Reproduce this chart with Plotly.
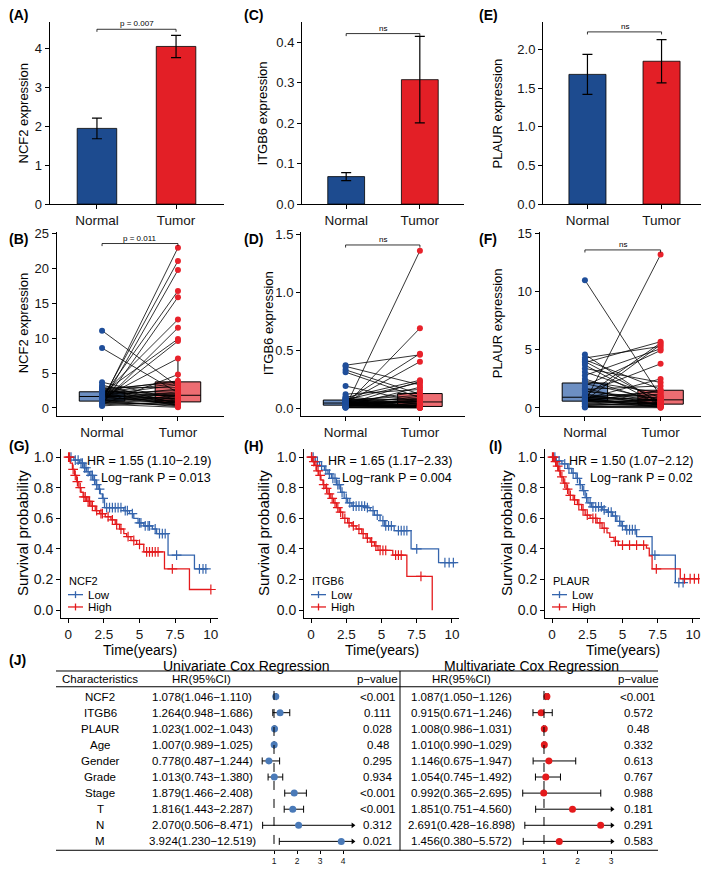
import numpy as np
import plotly.graph_objects as go

# The page body has an 8px default margin, so the figure is drawn 8px smaller
# and every layout pixel position below is given in window pixels minus 8.
OFF = 8
FW, FH = 709 - OFF, 876 - OFF
FONT = "Liberation Sans, Arial, Helvetica, sans-serif"
BLUE_BAR, RED_BAR = "#1d4b8f", "#e31f26"
BLUE_PT, RED_PT = "#1f4e9a", "#e8222b"
BLUE_KM, RED_KM = "#3565ad", "#e41a1c"
BLUE_FOREST, RED_FOREST = "#4a7ab8", "#e41a1c"

# ---------------- data ----------------
groups = ["Normal", "Tumor"]
genes = ["NCF2", "ITGB6", "PLAUR"]

bar_mean_ncf2 = [1.94, 4.04]
bar_err_ncf2 = [0.265, 0.285]
bar_mean_itgb6 = [0.068, 0.308]
bar_err_itgb6 = [0.010, 0.107]
bar_mean_plaur = [1.68, 1.85]
bar_err_plaur = [0.26, 0.28]
bar_pvals = ["p = 0.007", "ns", "ns"]
pair_pvals = ["p = 0.011", "ns", "ns"]

normal_ncf2 = [0.9, 1.2, 0.6, 1.5, 0.4, 1.8, 0.7, 2.1, 1.0, 1.4, 0.5, 2.5, 11.1, 8.6, 3.7, 3.3,
               3.0, 2.9, 2.8, 2.7, 2.6, 2.45, 2.4, 2.3, 2.25, 2.2, 2.05, 2.0, 1.95, 1.9, 1.85, 1.75,
               1.7, 1.6, 1.55, 1.45, 1.35, 1.3, 1.15, 1.1, 1.05, 0.95, 0.88, 0.8, 0.75, 0.65, 0.55, 0.3]
tumor_ncf2 = [23.0, 21.1, 19.8, 16.8, 15.9, 12.7, 11.5, 9.9, 9.6, 7.1, 4.8, 3.9, 3.1, 2.2, 1.2, 0.6,
              2.9, 1.5, 0.4, 3.7, 1.1, 2.0, 0.8, 3.5, 1.75, 0.3, 2.5, 1.0, 0.55, 3.3, 1.3, 2.7,
              0.45, 1.9, 0.95, 2.3, 0.7, 1.6, 2.1, 0.2, 1.4, 1.7, 0.35, 1.15, 0.5, 0.75, 0.1, 0.9]

normal_itgb6 = [0.37, 0.36, 0.33, 0.31, 0.19, 0.12, 0.10, 0.09, 0.085, 0.08, 0.075, 0.072, 0.068, 0.065,
                0.062, 0.06, 0.057, 0.055, 0.052, 0.05, 0.048, 0.046, 0.045, 0.044, 0.042, 0.04, 0.038,
                0.036, 0.034, 0.032, 0.03, 0.029, 0.028, 0.027, 0.026, 0.025, 0.024, 0.022, 0.02, 0.018,
                0.016, 0.014, 0.012, 0.01, 0.008, 0.006, 0.004, 0.002]
tumor_itgb6 = [0.46, 0.20, 0.12, 0.09, 0.05, 0.16, 0.03, 0.24, 0.012, 0.07, 0.035, 0.22, 0.008, 0.11,
               0.04, 0.47, 0.02, 0.085, 0.005, 0.14, 0.025, 0.06, 0.01, 0.40, 0.045, 0.018, 0.10,
               0.003, 0.065, 0.23, 0.014, 0.055, 0.006, 0.08, 0.028, 0.69, 0.011, 0.058, 0.009, 0.18,
               0.016, 0.075, 0.004, 1.36, 0.022, 0.007, 0.002, 0.001]

normal_plaur = [11.0, 4.6, 4.3, 4.15, 4.0, 3.9, 3.7, 3.4, 3.1, 2.8, 2.5, 2.3, 2.1, 1.9, 1.7, 1.6,
                1.5, 1.4, 1.3, 1.2, 1.1, 1.05, 1.0, 0.95, 0.9, 0.85, 0.8, 0.78, 0.75, 0.72, 0.7, 0.68,
                0.65, 0.63, 0.62, 0.6, 0.55, 0.5, 0.45, 0.4, 0.35, 0.3, 0.25, 0.2, 0.15, 0.12, 0.1, 0.05]
tumor_plaur = [1.0, 0.3, 5.3, 1.6, 0.5, 5.7, 0.2, 2.2, 0.9, 5.1, 0.4, 1.3, 0.68, 4.95, 0.15, 1.9,
               0.55, 0.85, 3.8, 0.25, 1.1, 0.6, 5.6, 0.45, 1.4, 0.1, 0.75, 2.5, 0.36, 1.2, 0.05, 0.95,
               0.42, 5.45, 0.28, 1.5, 0.65, 13.2, 0.38, 0.8, 0.18, 0.72, 0.34, 0.48, 0.12, 0.22, 0.08, 0.02]

# Kaplan-Meier step curves (time in years, survival probability)
km_ncf2_low_t = [0, 0.4, 0.8, 1.1, 1.3, 1.5, 1.75, 1.95, 2.1, 2.25, 2.4, 2.55, 3.9, 4.3, 4.6, 4.9, 5.3, 5.9, 6.2, 7.0, 8.85]
km_ncf2_low_s = [1.0, 0.98, 0.96, 0.93, 0.905, 0.88, 0.85, 0.82, 0.79, 0.76, 0.73, 0.67, 0.65, 0.63, 0.60, 0.57, 0.55, 0.53, 0.50, 0.36, 0.27]
km_ncf2_low_end = 9.65
km_ncf2_low_cens = [0.2, 0.5, 0.7, 0.9, 1.0, 1.15, 1.25, 1.4, 1.6, 1.7, 1.85, 2.0, 2.2, 2.45, 2.7, 2.9, 3.1, 3.3,
                    3.5, 3.7, 4.0, 4.15, 4.5, 5.0, 5.1, 5.4, 5.6, 5.7, 6.1, 6.4, 6.6, 6.8, 7.6, 9.2, 9.45, 9.65]
km_ncf2_high_t = [0, 0.15, 0.3, 0.45, 0.6, 0.75, 0.9, 1.05, 1.3, 1.6, 1.9, 2.2, 2.6, 3.0, 3.3, 3.6, 3.9, 4.1, 4.4, 4.8, 5.3, 6.75, 8.5]
km_ncf2_high_s = [1.0, 0.96, 0.92, 0.88, 0.84, 0.80, 0.77, 0.74, 0.71, 0.68, 0.65, 0.63, 0.61, 0.59, 0.56, 0.53, 0.50, 0.48, 0.455, 0.43, 0.38, 0.27, 0.135]
km_ncf2_high_end = 10.0
km_ncf2_high_cens = [0.03, 0.1, 0.35, 0.5, 0.65, 0.85, 1.1, 1.2, 1.4, 1.5, 1.7, 2.0, 2.3, 2.4, 2.8, 3.1, 3.4,
                     3.7, 4.2, 4.6, 5.0, 5.5, 5.7, 5.9, 6.1, 6.3, 7.3, 10.0]

km_itgb6_low_t = [0, 0.3, 0.6, 0.95, 1.2, 1.45, 1.8, 2.1, 2.35, 2.6, 2.9, 3.9, 4.2, 4.5, 4.9, 5.2, 5.9, 7.1, 9.05]
km_itgb6_low_s = [1.0, 0.97, 0.94, 0.915, 0.89, 0.86, 0.82, 0.77, 0.73, 0.70, 0.68, 0.67, 0.65, 0.62, 0.585, 0.55, 0.52, 0.40, 0.31]
km_itgb6_low_end = 10.3
km_itgb6_low_cens = [0.15, 0.45, 0.75, 1.05, 1.3, 1.55, 1.7, 1.9, 2.0, 2.2, 2.5, 2.75, 3.0, 3.2, 3.4, 3.6, 3.8,
                     4.0, 4.4, 4.7, 5.1, 5.3, 5.5, 5.7, 6.2, 6.4, 6.6, 6.8, 7.5, 9.5, 9.8, 10.1]
km_itgb6_high_t = [0, 0.1, 0.25, 0.4, 0.55, 0.7, 0.85, 1.0, 1.2, 1.4, 1.6, 1.8, 2.0, 2.25, 2.6, 2.9, 3.2, 3.6,
                   3.9, 4.2, 4.5, 4.75, 5.8, 6.8, 8.6]
km_itgb6_high_s = [1.0, 0.97, 0.945, 0.91, 0.88, 0.85, 0.82, 0.795, 0.76, 0.73, 0.70, 0.67, 0.64, 0.60, 0.57,
                   0.55, 0.53, 0.50, 0.47, 0.445, 0.42, 0.39, 0.36, 0.22, 0.0]
km_itgb6_high_end = 8.6
km_itgb6_high_cens = [0.03, 0.05, 0.2, 0.35, 0.5, 0.65, 0.9, 1.1, 1.3, 1.5, 1.7, 1.9, 2.1, 2.4, 2.7, 3.0, 3.4,
                      3.7, 4.0, 4.3, 4.6, 4.9, 5.1, 5.3, 6.0, 6.2, 6.4, 7.8]

km_plaur_low_t = [0, 0.3, 0.7, 1.1, 1.4, 1.7, 1.95, 2.15, 2.35, 2.55, 2.8, 3.6, 3.9, 4.3, 4.6, 4.9, 5.2, 6.0, 7.1, 8.75]
km_plaur_low_s = [1.0, 0.975, 0.955, 0.925, 0.895, 0.86, 0.82, 0.78, 0.735, 0.70, 0.675, 0.655, 0.64, 0.615, 0.58, 0.55, 0.525, 0.48, 0.36, 0.18]
km_plaur_low_end = 9.3
km_plaur_low_cens = [0.2, 0.5, 0.9, 1.2, 1.5, 1.8, 2.0, 2.25, 2.45, 2.7, 2.9, 3.1, 3.3, 3.5, 3.7, 4.0, 4.2,
                     4.5, 4.8, 5.0, 5.3, 5.5, 5.7, 5.9, 7.3, 9.0, 9.3]
km_plaur_high_t = [0, 0.15, 0.3, 0.45, 0.6, 0.8, 1.0, 1.2, 1.5, 1.8, 2.1, 2.35, 2.7, 3.2, 3.55, 3.9, 4.1,
                   4.4, 4.7, 6.7, 6.9, 7.1, 9.1]
km_plaur_high_s = [1.0, 0.97, 0.94, 0.91, 0.87, 0.83, 0.79, 0.75, 0.72, 0.69, 0.655, 0.62, 0.60, 0.57, 0.535,
                   0.505, 0.475, 0.45, 0.425, 0.405, 0.355, 0.27, 0.205]
km_plaur_high_end = 10.4
km_plaur_high_cens = [0.03, 0.1, 0.25, 0.4, 0.55, 0.7, 0.9, 1.1, 1.3, 1.6, 1.9, 2.2, 2.5, 2.9, 3.1, 3.4, 3.7,
                      4.5, 5.0, 5.5, 6.0, 6.5, 7.4, 9.4, 9.8, 10.1, 10.4]

km_hr_text = ["HR = 1.55 (1.10\u22122.19)", "HR = 1.65 (1.17\u22122.33)", "HR = 1.50 (1.07\u22122.12)"]
km_p_text = ["Log\u2212rank P = 0.013", "Log\u2212rank P = 0.004", "Log\u2212rank P = 0.02"]
km_legend = ["Low", "High"]

# Cox regression table
cox_vars = ["NCF2", "ITGB6", "PLAUR", "Age", "Gender", "Grade", "Stage", "T", "N", "M"]
uni_hr = [1.078, 1.264, 1.023, 1.007, 0.778, 1.013, 1.879, 1.816, 2.070, 3.924]
uni_lo = [1.046, 0.948, 1.002, 0.989, 0.487, 0.743, 1.466, 1.443, 0.506, 1.230]
uni_hi = [1.110, 1.686, 1.043, 1.025, 1.244, 1.380, 2.408, 2.287, 8.471, 12.519]
uni_p = ["<0.001", "0.111", "0.028", "0.48", "0.295", "0.934", "<0.001", "<0.001", "0.312", "0.021"]
multi_hr = [1.087, 0.915, 1.008, 1.010, 1.146, 1.054, 0.992, 1.851, 2.691, 1.456]
multi_lo = [1.050, 0.671, 0.986, 0.990, 0.675, 0.745, 0.365, 0.751, 0.428, 0.380]
multi_hi = [1.126, 1.246, 1.031, 1.029, 1.947, 1.492, 2.695, 4.560, 16.898, 5.572]
multi_p = ["<0.001", "0.572", "0.48", "0.332", "0.613", "0.767", "0.988", "0.181", "0.291", "0.583"]
uni_ticks = [1, 2, 3, 4]
multi_ticks = [1, 2, 3]
uni_xmax = 4.43
multi_xmax = 3.03

# ---------------- helpers ----------------
fig = go.Figure()
lay_axes = {}
annos = []
shapes = []


def X(p):
    return (p - OFF) / FW


def Y(p):
    return 1 - (p - OFF) / FH


def names(n):
    if n == 1:
        return "xaxis", "yaxis", "x", "y"
    return f"xaxis{n}", f"yaxis{n}", f"x{n}", f"y{n}"


def tfont(size):
    return dict(family=FONT, size=size, color="#151515")


BASE = dict(showline=True, linecolor="black", linewidth=1, ticks="outside", ticklen=4, tickwidth=1,
            tickcolor="black", showgrid=False, zeroline=False, fixedrange=True)


def make_axes(n, left, right, top, bottom, xr, yr, xkw=None, ykw=None):
    xa, ya, xref, yref = names(n)
    lay_axes[xa] = dict(BASE, domain=[X(left), X(right)], range=xr, anchor=yref, tickfont=tfont(13))
    lay_axes[ya] = dict(BASE, domain=[Y(bottom), Y(top)], range=yr, anchor=xref, tickfont=tfont(13))
    if xkw:
        lay_axes[xa].update(xkw)
    if ykw:
        lay_axes[ya].update(ykw)
    return xref, yref


def text(x, y, s, size=12, xanchor="center", yanchor="middle", angle=0, xref="paper", yref="paper", color="black"):
    annos.append(dict(x=x, y=y, xref=xref, yref=yref, text=s, showarrow=False, xanchor=xanchor,
                      yanchor=yanchor, textangle=angle, borderpad=0,
                      font=dict(family=FONT, size=size, color=color)))


def bracket(xref, yref, level, drop, label, size):
    shapes.append(dict(type="path", xref=xref, yref=yref,
                       path=f"M 0,{level - drop} L 0,{level} L 1,{level} L 1,{level - drop}",
                       line=dict(color="black", width=0.8)))
    text(0.5, level, label, size=size, yanchor="bottom", xref=xref, yref=yref)


def box_stats(v):
    v = np.asarray(v, float)
    q1, med, q3 = np.percentile(v, [25, 50, 75])
    iqr = q3 - q1
    lo = v[v >= q1 - 1.5 * iqr].min()
    hi = v[v <= q3 + 1.5 * iqr].max()
    return q1, med, q3, lo, hi


cat_ticks = dict(tickvals=[0, 1], ticktext=groups, tickfont=tfont(13.5))

# ---------------- row 1: bar charts ----------------
bar_specs = [
    (1, 49.5, 223.5, bar_mean_ncf2, bar_err_ncf2, 4.67, [0, 1, 2, 3, 4], None, 4.48, 23, "(A)", 8),
    (2, 302, 464, bar_mean_itgb6, bar_err_itgb6, 0.451, [0, 0.1, 0.2, 0.3, 0.4], ".1f", 0.422, 262, "(C)", 243),
    (3, 543, 706, bar_mean_plaur, bar_err_plaur, 2.36, [0, 0.5, 1, 1.5, 2], ".1f", 2.23, 497, "(E)", 478),
]
for i, (n, l, r, means, errs, ytop, yt, fmt, blev, titx, lab, labx) in enumerate(bar_specs):
    ykw = dict(tickvals=yt)
    if fmt:
        ykw["tickformat"] = fmt
    xr, yr = make_axes(n, l, r, 17, 202, [-0.6, 1.6], [0, ytop], xkw=cat_ticks, ykw=ykw)
    fig.add_trace(go.Bar(x=[0, 1], y=means, width=0.5, xaxis=xr, yaxis=yr,
                         marker=dict(color=[BLUE_BAR, RED_BAR], line=dict(color="black", width=0.8)),
                         error_y=dict(type="data", array=errs, color="black", thickness=1.2, width=5)))
    bracket(xr, yr, blev, ytop * 0.014, bar_pvals[i], 8)
    text(X(titx), Y(110), f"{genes[i]} expression", size=13, angle=-90)
    text(X(labx), Y(10), f"<b>{lab}</b>", size=14, xanchor="left")

# ---------------- row 2: paired box plots ----------------
pair_specs = [
    (4, 56.5, 223.5, normal_ncf2, tumor_ncf2, [-1.13, 25.3], [0, 5, 10, 15, 20, 25], None, 23.6, 23, "(B)", 8),
    (5, 301, 464.5, normal_itgb6, tumor_itgb6, [-0.068, 1.525], [0, 0.5, 1.0, 1.5], ".1f", 1.41, 268, "(D)", 243),
    (6, 539.5, 706, normal_plaur, tumor_plaur, [-0.68, 15.17], [0, 5, 10, 15], None, 13.6, 497, "(F)", 478),
]
for i, (n, l, r, nv, tv, yrg, yt, fmt, blev, titx, lab, labx) in enumerate(pair_specs):
    ykw = dict(tickvals=yt)
    if fmt:
        ykw["tickformat"] = fmt
    xr, yr = make_axes(n, l, r, 230, 417, [-0.6, 1.6], yrg, xkw=cat_ticks, ykw=ykw)
    for pos, vals, fill in [(0, nv, "rgba(40,90,165,0.68)"), (1, tv, "rgba(228,30,38,0.65)")]:
        q1, med, q3, lo, hi = box_stats(vals)
        fig.add_trace(go.Box(x=[pos], q1=[q1], median=[med], q3=[q3], lowerfence=[lo], upperfence=[hi],
                             width=0.6, fillcolor=fill, line=dict(color="black", width=1),
                             whiskerwidth=0, boxpoints=False, xaxis=xr, yaxis=yr, hoverinfo="skip"))
    lx, ly = [], []
    for a, b in zip(nv, tv):
        lx += [0, 1, None]
        ly += [a, b, None]
    fig.add_trace(go.Scatter(x=lx, y=ly, mode="lines", line=dict(color="black", width=0.8),
                             xaxis=xr, yaxis=yr, hoverinfo="skip"))
    fig.add_trace(go.Scatter(x=[0] * len(nv), y=nv, mode="markers", marker=dict(color=BLUE_PT, size=6),
                             xaxis=xr, yaxis=yr))
    fig.add_trace(go.Scatter(x=[1] * len(tv), y=tv, mode="markers", marker=dict(color=RED_PT, size=6),
                             xaxis=xr, yaxis=yr))
    span = yrg[1] - yrg[0]
    bracket(xr, yr, blev, span * 0.014, pair_pvals[i], 8)
    text(X(titx), Y(323), f"{genes[i]} expression", size=13, angle=-90)
    text(X(labx), Y(237), f"<b>{lab}</b>", size=14, xanchor="left")

# ---------------- row 3: Kaplan-Meier ----------------
km_curves = [
    [(km_ncf2_low_t, km_ncf2_low_s, km_ncf2_low_end, km_ncf2_low_cens),
     (km_ncf2_high_t, km_ncf2_high_s, km_ncf2_high_end, km_ncf2_high_cens)],
    [(km_itgb6_low_t, km_itgb6_low_s, km_itgb6_low_end, km_itgb6_low_cens),
     (km_itgb6_high_t, km_itgb6_high_s, km_itgb6_high_end, km_itgb6_high_cens)],
    [(km_plaur_low_t, km_plaur_low_s, km_plaur_low_end, km_plaur_low_cens),
     (km_plaur_high_t, km_plaur_high_s, km_plaur_high_end, km_plaur_high_cens)],
]
km_specs = [(7, 61, 218, 22, "(G)", 8), (8, 304, 459, 263, "(H)", 243), (9, 545, 700, 506, "(I)", 488)]
for i, (n, l, r, titx, lab, labx) in enumerate(km_specs):
    xr, yr = make_axes(n, l, r, 451, 622, [-0.5, 10.5], [-0.05, 1.05],
                       xkw=dict(tickvals=[0, 2.5, 5, 7.5, 10], ticktext=["0", "2.5", "5", "7.5", "10"],
                                tickfont=tfont(13.5)),
                       ykw=dict(tickvals=[0, 0.2, 0.4, 0.6, 0.8, 1.0], tickformat=".1f", tickfont=tfont(14)))
    for (t, s, end, cens), col in zip(km_curves[i], [BLUE_KM, RED_KM]):
        fig.add_trace(go.Scatter(x=list(t) + [end], y=list(s) + [s[-1]], mode="lines",
                                 line=dict(color=col, width=1.3, shape="hv"), xaxis=xr, yaxis=yr))
        tt = np.asarray(t)
        cy = [s[int(np.searchsorted(tt, c, side="right")) - 1] for c in cens]
        fig.add_trace(go.Scatter(x=cens, y=cy, mode="markers",
                                 marker=dict(symbol="cross-thin", size=7, color=col,
                                             line=dict(color=col, width=1.2)),
                                 xaxis=xr, yaxis=yr))
    text(X(r - 6), Y(463), km_hr_text[i], size=12.5, xanchor="right")
    text(X(r - 6), Y(480), km_p_text[i], size=12.5, xanchor="right")
    text(X(titx), Y(536), "Survival probability", size=15, angle=-90)
    text(X((l + r) / 2), Y(655), "Time(years)", size=14)
    text(X(labx), Y(448), f"<b>{lab}</b>", size=14, xanchor="left")
    # legend (title plus two keyed entries)
    lx0 = l + 7
    text(X(lx0), Y(585), genes[i], size=11, xanchor="left")
    for name, col, ly in zip(km_legend, [BLUE_KM, RED_KM], [598.5, 611]):
        shapes.append(dict(type="line", xref="paper", yref="paper", x0=X(lx0), x1=X(lx0 + 15), y0=Y(ly), y1=Y(ly),
                           line=dict(color=col, width=1.3)))
        shapes.append(dict(type="line", xref="paper", yref="paper", x0=X(lx0 + 7.5), x1=X(lx0 + 7.5),
                           y0=Y(ly - 3.5), y1=Y(ly + 3.5), line=dict(color=col, width=1.3)))
        text(X(lx0 + 19), Y(ly), name, size=11.5, xanchor="left")

# ---------------- row 4: Cox regression forest table ----------------
rows = list(range(len(cox_vars)))
row_range = [9.553, -0.612]
forest_specs = [
    (10, 255, 356, [0.174, 4.565], uni_hr, uni_lo, uni_hi, uni_xmax, uni_ticks, BLUE_FOREST),
    (11, 505, 625, [-0.164, 3.418], multi_hr, multi_lo, multi_hi, multi_xmax, multi_ticks, RED_FOREST),
]
for n, l, r, xrg, hr, lo, hi, xmax, ticks, col in forest_specs:
    xr, yr = make_axes(n, l, r, 692, 858, xrg, row_range,
                       xkw=dict(showline=False, tickvals=ticks, ticklen=3, tickfont=tfont(8.5)),
                       ykw=dict(visible=False))
    shapes.append(dict(type="line", xref=xr, yref=yr, x0=1, x1=1, y0=-0.35, y1=row_range[0],
                       line=dict(color="black", width=1, dash="dash")))
    cx, cy = [], []
    capx, capy, arx, ary = [], [], [], []
    for i in rows:
        upper = min(hi[i], xmax)
        cx += [lo[i], upper, None]
        cy += [i, i, None]
        capx.append(lo[i])
        capy.append(i)
        if hi[i] > xmax:
            arx.append(xmax)
            ary.append(i)
        else:
            capx.append(hi[i])
            capy.append(i)
    fig.add_trace(go.Scatter(x=cx, y=cy, mode="lines", line=dict(color="black", width=1), xaxis=xr, yaxis=yr))
    fig.add_trace(go.Scatter(x=capx, y=capy, mode="markers",
                             marker=dict(symbol="line-ns", size=5, line=dict(color="black", width=1)),
                             xaxis=xr, yaxis=yr))
    fig.add_trace(go.Scatter(x=arx, y=ary, mode="markers",
                             marker=dict(symbol="triangle-right", size=5, color="black"),
                             xaxis=xr, yaxis=yr))
    fig.add_trace(go.Scatter(x=hr, y=rows, mode="markers", marker=dict(color=col, size=7),
                             xaxis=xr, yaxis=yr))

# table text
yref_rows = "y10"
for i, v in enumerate(cox_vars):
    text(X(100), i, v, size=11.5, yref=yref_rows)
    text(X(202), i, f"{uni_hr[i]:.3f}({uni_lo[i]:.3f}\u2212{uni_hi[i]:.3f})", size=11.5, yref=yref_rows)
    text(X(378), i, uni_p[i], size=11.5, yref=yref_rows)
    text(X(461), i, f"{multi_hr[i]:.3f}({multi_lo[i]:.3f}\u2212{multi_hi[i]:.3f})", size=11.5, yref=yref_rows)
    text(X(638), i, multi_p[i], size=11.5, yref=yref_rows)

text(X(100), Y(684), "Characteristics", size=11.5)
text(X(201), Y(684), "HR(95%CI)", size=11.5)
text(X(378), Y(684), "p\u2212value", size=11.5)
text(X(461), Y(684), "HR(95%CI)", size=11.5)
text(X(638), Y(684), "p\u2212value", size=11.5)
text(X(246), Y(670.5), "Univariate Cox Regression", size=14)
text(X(531), Y(670.5), "Multivariate Cox Regression", size=14)
text(X(8), Y(665), "<b>(J)</b>", size=14, xanchor="left")

for yy in [676, 692, 858]:
    shapes.append(dict(type="line", xref="paper", yref="paper", x0=X(56), x1=X(658), y0=Y(yy), y1=Y(yy),
                       line=dict(color="black", width=1)))
shapes.append(dict(type="line", xref="paper", yref="paper", x0=X(400), x1=X(400), y0=Y(676), y1=Y(858),
                   line=dict(color="black", width=1)))

fig.update_layout(width=FW, height=FH, margin=dict(l=0, r=0, t=0, b=0), paper_bgcolor="white",
                  plot_bgcolor="white", showlegend=False, font=dict(family=FONT, color="black"),
                  annotations=annos, shapes=shapes, boxmode="overlay", **lay_axes)
fig.write_html("out.html")
